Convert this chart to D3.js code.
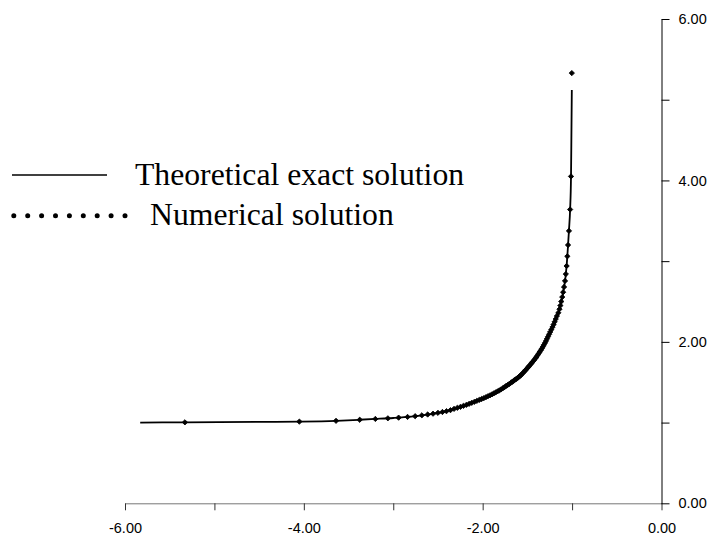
<!DOCTYPE html>
<html><head><meta charset="utf-8">
<script src="https://cdn.jsdelivr.net/npm/d3@7"></script>
<style>body{margin:0;background:#fff}svg{display:block}</style>
</head><body>
<svg id="c" width="710" height="537"></svg>
<script>
// Exact (theoretical) solution
const exactX = [-5.83,-5.33,-4.5,-4.05,-3.64,-3.38,-3.2,-3.0,-2.8,-2.6,-2.4,-2.2,-2.0,-1.9,-1.8,-1.7,-1.62,-1.58,
  -1.545,-1.48,-1.407,-1.347,-1.297,-1.212,-1.142,-1.102,-1.074,-1.057,-1.045,-1.035,-1.022,-1.012,-1.008,-1.003];
const exactY = [1.000,1.003,1.008,1.012,1.022,1.035,1.045,1.057,1.074,1.102,1.142,1.212,1.297,1.347,1.407,1.480,1.545,1.58,
  1.62,1.70,1.80,1.90,2.00,2.20,2.40,2.60,2.80,3.00,3.20,3.38,3.64,4.05,4.50,5.12];

// Numerical solution points
const numX = [-5.33,-4.05,-3.64,-3.375,-3.2,-3.06,-2.94,-2.84,-2.755,-2.68,-2.615,-2.555,-2.5,-2.45,-2.405,-2.36,-2.32,
  -2.283,-2.248,-2.215,-2.183,-2.152,-2.122,-2.093,-2.065,-2.038,-2.012,-1.987,-1.963,-1.940,-1.917,-1.895,-1.874,-1.853,
  -1.833,-1.813,-1.794,-1.775,-1.757,-1.739,-1.721,-1.704,-1.687,-1.670,-1.654,-1.638,-1.622,-1.607,-1.592,-1.58,
  -1.569,-1.556,-1.543,-1.530,-1.517,-1.504,-1.491,-1.477,-1.465,-1.452,-1.438,-1.425,-1.411,-1.399,-1.387,-1.375,-1.363,
  -1.350,-1.338,-1.327,-1.315,-1.303,-1.292,-1.281,-1.269,-1.257,-1.245,-1.232,-1.219,-1.207,-1.195,-1.183,-1.170,-1.154,
  -1.141,-1.131,-1.121,-1.110,-1.100,-1.090,-1.079,-1.070,-1.061,-1.053,-1.045,-1.035,-1.022,-1.012,-1.003];
const numY = [1.003,1.012,1.022,1.035,1.045,1.053,1.061,1.070,1.079,1.090,1.100,1.110,1.121,1.131,1.141,1.154,1.170,
  1.183,1.195,1.207,1.219,1.232,1.245,1.257,1.269,1.281,1.292,1.303,1.315,1.327,1.338,1.350,1.363,1.375,
  1.387,1.399,1.411,1.425,1.438,1.452,1.465,1.477,1.491,1.504,1.517,1.530,1.543,1.556,1.569,1.58,
  1.592,1.607,1.622,1.638,1.654,1.670,1.687,1.704,1.721,1.739,1.757,1.775,1.794,1.813,1.833,1.853,1.874,
  1.895,1.917,1.940,1.963,1.987,2.012,2.038,2.065,2.093,2.122,2.152,2.183,2.215,2.248,2.283,2.320,2.360,
  2.405,2.450,2.500,2.555,2.615,2.680,2.755,2.840,2.940,3.060,3.200,3.375,3.640,4.050,5.330];

const xTicks = [-6,-5,-4,-3,-2,-1,0];
const yTicks = [0,1,2,3,4,5,6];
const legendLabels = ["Theoretical exact solution","Numerical solution"];

const svg = d3.select("#c");
const x = d3.scaleLinear().domain([-6,0]).range([125,661.5]);
const y = d3.scaleLinear().domain([0,6]).range([503.3,19]);
const fmt = v => (Math.round(v) % 2 === 0) ? v.toFixed(2) : "";

// X axis
const gx = svg.append("g").attr("transform","translate(0,503.3)")
  .call(d3.axisBottom(x).tickValues(xTicks).tickSize(7).tickSizeOuter(0).tickFormat(fmt));
gx.select(".domain").attr("stroke","#777").attr("stroke-width",1);
gx.selectAll(".tick line").attr("stroke","#333");
gx.selectAll("text").attr("y",30).attr("dy",0).attr("fill","#000")
  .style("font-family","Liberation Sans, Arial, sans-serif").style("font-size","14.5px");

// Y axis
const gy = svg.append("g").attr("transform","translate(661.5,0)")
  .call(d3.axisRight(y).tickValues(yTicks).tickSize(8).tickSizeOuter(0).tickPadding(9).tickFormat(fmt));
gy.select(".domain").attr("stroke","#000").attr("stroke-width",1);
gy.selectAll(".tick line").attr("stroke","#000");
gy.selectAll("text").attr("fill","#000")
  .style("font-family","Liberation Sans, Arial, sans-serif").style("font-size","14.5px");

// Exact line
const lineData = exactX.map((v,i)=>[v,exactY[i]]);
svg.append("path").datum(lineData)
  .attr("fill","none").attr("stroke","#000").attr("stroke-width",1.8)
  .attr("d", d3.line().x(d=>x(d[0])).y(d=>y(d[1])).curve(d3.curveMonotoneX));

// Numerical points (small filled diamonds)
const pts = numX.map((v,i)=>[v,numY[i]]);
svg.append("g").selectAll("path").data(pts).join("path")
  .attr("transform", d=>`translate(${x(d[0])},${y(d[1])}) rotate(45)`)
  .attr("d", d3.symbol(d3.symbolSquare).size(14))
  .attr("fill","#000").attr("stroke","#000").attr("stroke-width",0.8);

// Legend
const lg = svg.append("g");
lg.append("line").attr("x1",12).attr("x2",107).attr("y1",175).attr("y2",175)
  .attr("stroke","#000").attr("stroke-width",1.6);
lg.append("text").attr("x",135).attr("y",185).text(legendLabels[0])
  .style("font-family","Liberation Serif, Times New Roman, serif").style("font-size","31.7px");
lg.selectAll("circle").data(d3.range(9)).join("circle")
  .attr("cx", i=>13.8 + i*13.9).attr("cy",215.7).attr("r",2.5).attr("fill","#000");
lg.append("text").attr("x",150).attr("y",224.5).text(legendLabels[1])
  .style("font-family","Liberation Serif, Times New Roman, serif").style("font-size","31.7px");
</script>
</body></html>
